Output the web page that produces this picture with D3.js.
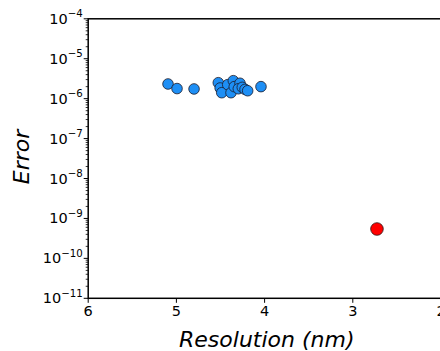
<!DOCTYPE html>
<html>
<head>
<meta charset="utf-8">
<script src="https://cdn.jsdelivr.net/npm/d3@7"></script>
<style>
  html, body { margin: 0; padding: 0; background: #fff; }
  svg { display: block; }
  text { font-family: "DejaVu Sans", sans-serif; fill: #000; }
</style>
</head>
<body>
<svg id="chart" width="440" height="351"></svg>
<script>
// Blue series: resolution (nm) vs error
const blueResolution = [5.095, 4.993, 4.80, 4.525, 4.504, 4.486, 4.418, 4.381, 4.355, 4.344, 4.279, 4.298, 4.253, 4.222, 4.192, 4.041];
const blueError = [2.33e-6, 1.79e-6, 1.75e-6, 2.51e-6, 1.85e-6, 1.41e-6, 2.24e-6, 1.41e-6, 2.82e-6, 2.0e-6, 2.43e-6, 1.77e-6, 1.92e-6, 1.71e-6, 1.58e-6, 2.0e-6];
// Red series: single point
const redResolution = [2.726];
const redError = [5.44e-10];

const xTicks = [6, 5, 4, 3, 2];
const yTickExponents = [-4, -5, -6, -7, -8, -9, -10, -11];

const svg = d3.select("#chart");
const plotLeft = 88.2, plotRight = 441, plotTop = 18.8, plotBottom = 298.3;

const x = d3.scaleLinear().domain([6, 2]).range([plotLeft, plotRight]);
const y = d3.scaleLog().domain([1e-11, 1e-4]).range([plotBottom, plotTop]);

// minor ticks on the log axis
const minor = [];
for (let e = -11; e < -4; e++) {
  for (let m = 2; m <= 9; m++) minor.push(m * Math.pow(10, e));
}
svg.append("g").selectAll("line").data(minor).join("line")
  .attr("x1", plotLeft - 2.5).attr("x2", plotLeft)
  .attr("y1", d => y(d)).attr("y2", d => y(d))
  .attr("stroke", "#000").attr("stroke-width", 0.8);

// major y ticks and labels
const yg = svg.append("g");
yTickExponents.forEach(e => {
  const yy = y(Math.pow(10, e));
  yg.append("line").attr("x1", plotLeft - 4.5).attr("x2", plotLeft)
    .attr("y1", yy).attr("y2", yy).attr("stroke", "#000").attr("stroke-width", 1);
  const t = yg.append("text").attr("x", plotLeft - 5.5).attr("y", yy + 5)
    .attr("text-anchor", "end").style("font-size", "14.5px");
  t.append("tspan").text("10");
  t.append("tspan").attr("dy", -6.5).style("font-size", "10.2px").text("\u2212" + Math.abs(e));
});

// x ticks and labels
const xg = svg.append("g");
xTicks.forEach(v => {
  const xx = x(v);
  xg.append("line").attr("x1", xx).attr("x2", xx)
    .attr("y1", plotBottom).attr("y2", plotBottom + 4.5).attr("stroke", "#000").attr("stroke-width", 1);
  xg.append("text").attr("x", xx).attr("y", plotBottom + 18)
    .attr("text-anchor", "middle").style("font-size", "14.5px").text(v);
});

// frame
svg.append("rect").attr("x", plotLeft).attr("y", plotTop)
  .attr("width", plotRight - plotLeft).attr("height", plotBottom - plotTop)
  .attr("fill", "none").attr("stroke", "#000").attr("stroke-width", 1.5);

// points
const blue = blueResolution.map((r, i) => ({ r, e: blueError[i] }));
svg.append("g").selectAll("circle").data(blue).join("circle")
  .attr("cx", d => x(d.r)).attr("cy", d => y(d.e)).attr("r", 5.3)
  .attr("fill", "#1e8ff5").attr("stroke", "#1a1a2a").attr("stroke-width", 0.8);

const red = redResolution.map((r, i) => ({ r, e: redError[i] }));
svg.append("g").selectAll("circle").data(red).join("circle")
  .attr("cx", d => x(d.r)).attr("cy", d => y(d.e)).attr("r", 6.3)
  .attr("fill", "#ff0000").attr("stroke", "#2a1a1a").attr("stroke-width", 0.8);

// axis titles
svg.append("text").attr("x", 266.8).attr("y", 346.5)
  .attr("text-anchor", "middle").style("font-size", "22px").style("font-style", "italic")
  .text("Resolution (nm)");
svg.append("text").attr("transform", `translate(29,157) rotate(-90)`)
  .attr("text-anchor", "middle").style("font-size", "22px").style("font-style", "italic")
  .text("Error");
</script>
</body>
</html>
